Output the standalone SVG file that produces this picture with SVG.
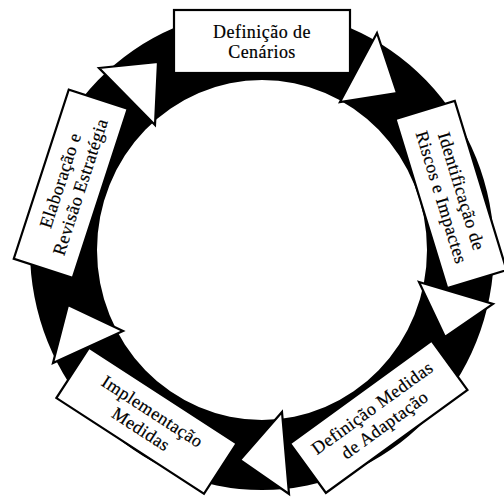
<svg xmlns="http://www.w3.org/2000/svg" width="504" height="497" viewBox="0 0 504 497">
  <style>
    .box { fill: #ffffff; stroke: #000000; stroke-width: 2.2; }
    .tri { fill: #ffffff; stroke: #000000; stroke-width: 2.2; stroke-linejoin: miter; }
    .ring { fill: #000000; fill-rule: evenodd; }
    .lbl { font-family: "Liberation Serif", "DejaVu Serif", serif; font-size: 18px; letter-spacing: 0.45px; fill: #000000; stroke: #000000; stroke-width: 0.2; text-anchor: middle; }
  </style>
  <rect width="504" height="497" fill="#ffffff"/>
  <g id="connectors">
    <path class="ring" d="M 30 250 A 232 240 0 1 0 494 250 A 232 240 0 1 0 30 250 Z M 97 250 A 165 170 0 1 0 427 250 A 165 170 0 1 0 97 250 Z"/>
    <polygon class="tri" points="99,68 158,62 155,125"/>
    <polygon class="tri" points="377,33 397,93 340,102"/>
    <polygon class="tri" points="419,282 493,304 445,337"/>
    <polygon class="tri" points="282,412 289,494 240,460"/>
    <polygon class="tri" points="68,305 123,331 53,363"/>
  </g>
  <g id="node-cenarios" transform="translate(262,41.5)">
    <rect class="box" x="-88" y="-31.5" width="176" height="63"/>
    <text class="lbl" x="0" y="-4">Definição de</text>
    <text class="lbl" x="0" y="16.5">Cenários</text>
  </g>
  <g id="node-riscos" transform="translate(451,194.5) rotate(73)">
    <rect class="box" x="-88.5" y="-31" width="177" height="62"/>
    <text class="lbl" x="0" y="-5">Identificação de</text>
    <text class="lbl" x="0" y="16">Riscos e Impactes</text>
  </g>
  <g id="node-adaptacao" transform="translate(378.75,416.75) rotate(-36)">
    <rect class="box" x="-87.5" y="-30.5" width="175" height="61"/>
    <text class="lbl" x="0" y="-5">Definição Medidas</text>
    <text class="lbl" x="0" y="16">de Adaptação</text>
  </g>
  <g id="node-implementacao" transform="translate(146.5,420.75) rotate(33)">
    <rect class="box" x="-88" y="-30" width="176" height="60"/>
    <text class="lbl" x="0" y="-5">Implementação</text>
    <text class="lbl" x="0" y="16">Medidas</text>
  </g>
  <g id="node-elaboracao" transform="translate(70.75,183.75) rotate(-72)">
    <rect class="box" x="-89" y="-31" width="178" height="62"/>
    <text class="lbl" x="0" y="-5">Elaboração e</text>
    <text class="lbl" x="0" y="16">Revisão Estratégia</text>
  </g>
</svg>
